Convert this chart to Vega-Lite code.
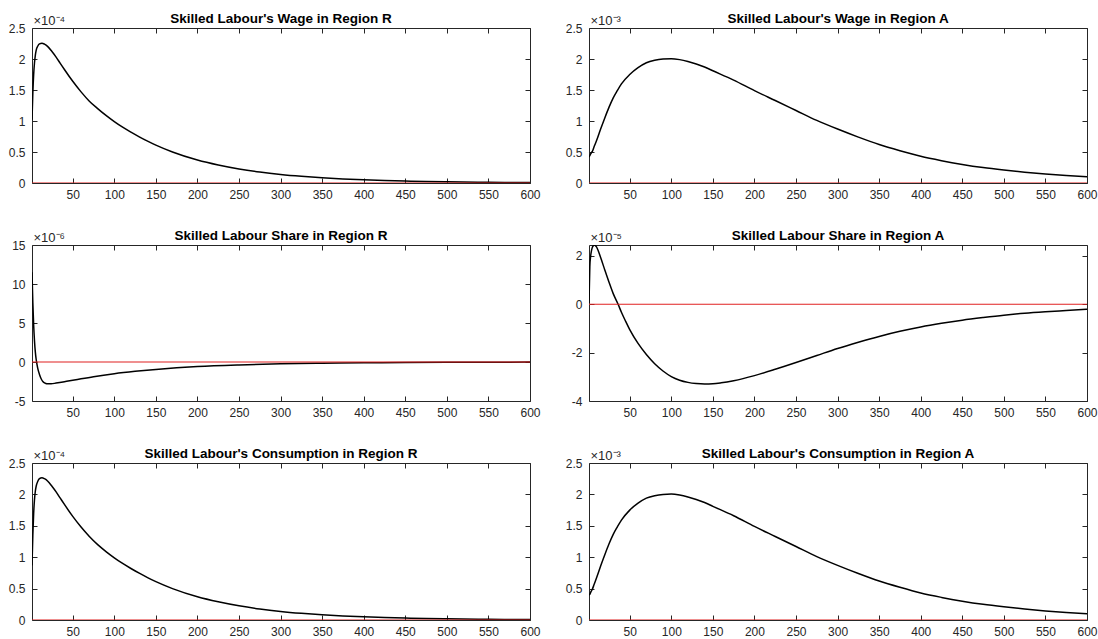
{
  "$schema": "https://vega.github.io/schema/vega-lite/v6.json",
  "padding": {"left": 7, "top": 11, "right": 5, "bottom": 0},
  "background": "white",
  "datasets": {
    "wageR": [
      {"x": 1, "y": 1.02}, {"x": 2, "y": 1.45}, {"x": 3, "y": 1.75}, {"x": 4, "y": 1.94}, {"x": 5, "y": 2.06},
      {"x": 6, "y": 2.14}, {"x": 8, "y": 2.21}, {"x": 10, "y": 2.245}, {"x": 13, "y": 2.255}, {"x": 16, "y": 2.24},
      {"x": 20, "y": 2.2}, {"x": 25, "y": 2.12}, {"x": 30, "y": 2.03}, {"x": 35, "y": 1.93}, {"x": 40, "y": 1.83},
      {"x": 50, "y": 1.64}, {"x": 60, "y": 1.47}, {"x": 70, "y": 1.32}, {"x": 80, "y": 1.2}, {"x": 90, "y": 1.09},
      {"x": 100, "y": 0.99}, {"x": 110, "y": 0.9}, {"x": 120, "y": 0.82}, {"x": 130, "y": 0.745}, {"x": 140, "y": 0.675},
      {"x": 150, "y": 0.61}, {"x": 170, "y": 0.5}, {"x": 200, "y": 0.37}, {"x": 225, "y": 0.29}, {"x": 250, "y": 0.226},
      {"x": 275, "y": 0.176}, {"x": 300, "y": 0.137}, {"x": 325, "y": 0.107}, {"x": 350, "y": 0.083}, {"x": 375, "y": 0.065},
      {"x": 400, "y": 0.051}, {"x": 425, "y": 0.04}, {"x": 450, "y": 0.031}, {"x": 475, "y": 0.024}, {"x": 500, "y": 0.019},
      {"x": 550, "y": 0.011}, {"x": 600, "y": 0.007}
    ],
    "wageA": [
      {"x": 1, "y": 0.42}, {"x": 2, "y": 0.44}, {"x": 3, "y": 0.47}, {"x": 4, "y": 0.49}, {"x": 5, "y": 0.51},
      {"x": 7, "y": 0.58}, {"x": 10, "y": 0.68}, {"x": 15, "y": 0.87}, {"x": 20, "y": 1.05}, {"x": 25, "y": 1.22},
      {"x": 30, "y": 1.37}, {"x": 35, "y": 1.49}, {"x": 40, "y": 1.6}, {"x": 50, "y": 1.75}, {"x": 60, "y": 1.86},
      {"x": 70, "y": 1.94}, {"x": 80, "y": 1.98}, {"x": 90, "y": 2.0}, {"x": 100, "y": 2.005}, {"x": 110, "y": 1.99},
      {"x": 120, "y": 1.96}, {"x": 130, "y": 1.92}, {"x": 140, "y": 1.87}, {"x": 150, "y": 1.81}, {"x": 175, "y": 1.66},
      {"x": 200, "y": 1.49}, {"x": 225, "y": 1.33}, {"x": 250, "y": 1.17}, {"x": 275, "y": 1.01}, {"x": 300, "y": 0.87},
      {"x": 325, "y": 0.74}, {"x": 350, "y": 0.62}, {"x": 375, "y": 0.52}, {"x": 400, "y": 0.43}, {"x": 425, "y": 0.36},
      {"x": 450, "y": 0.3}, {"x": 475, "y": 0.25}, {"x": 500, "y": 0.21}, {"x": 525, "y": 0.175}, {"x": 550, "y": 0.145},
      {"x": 575, "y": 0.12}, {"x": 600, "y": 0.1}
    ],
    "shareR": [
      {"x": 1, "y": 11.5}, {"x": 2, "y": 7.6}, {"x": 3, "y": 4.7}, {"x": 4, "y": 2.7}, {"x": 5, "y": 1.3},
      {"x": 6, "y": 0.35}, {"x": 7, "y": -0.3}, {"x": 8, "y": -0.85}, {"x": 10, "y": -1.6}, {"x": 12, "y": -2.15},
      {"x": 14, "y": -2.5}, {"x": 17, "y": -2.72}, {"x": 20, "y": -2.8}, {"x": 24, "y": -2.8}, {"x": 30, "y": -2.7},
      {"x": 40, "y": -2.52}, {"x": 50, "y": -2.34}, {"x": 60, "y": -2.15}, {"x": 75, "y": -1.88}, {"x": 100, "y": -1.5},
      {"x": 125, "y": -1.2}, {"x": 150, "y": -0.95}, {"x": 175, "y": -0.75}, {"x": 200, "y": -0.58}, {"x": 250, "y": -0.37},
      {"x": 300, "y": -0.24}, {"x": 350, "y": -0.15}, {"x": 400, "y": -0.1}, {"x": 450, "y": -0.06}, {"x": 500, "y": -0.04},
      {"x": 550, "y": -0.025}, {"x": 600, "y": -0.015}
    ],
    "shareA": [
      {"x": 1, "y": 0.05}, {"x": 2, "y": 1.55}, {"x": 3, "y": 2.0}, {"x": 4, "y": 2.22}, {"x": 5, "y": 2.35},
      {"x": 6, "y": 2.41}, {"x": 7, "y": 2.44}, {"x": 8, "y": 2.44}, {"x": 9, "y": 2.41}, {"x": 10, "y": 2.37},
      {"x": 12, "y": 2.22}, {"x": 15, "y": 1.93}, {"x": 20, "y": 1.42}, {"x": 25, "y": 0.92}, {"x": 30, "y": 0.45},
      {"x": 36, "y": 0.0}, {"x": 40, "y": -0.33}, {"x": 45, "y": -0.7}, {"x": 50, "y": -1.05}, {"x": 60, "y": -1.62},
      {"x": 70, "y": -2.08}, {"x": 80, "y": -2.46}, {"x": 90, "y": -2.76}, {"x": 100, "y": -2.99}, {"x": 110, "y": -3.14},
      {"x": 120, "y": -3.23}, {"x": 130, "y": -3.28}, {"x": 140, "y": -3.3}, {"x": 150, "y": -3.29}, {"x": 160, "y": -3.25},
      {"x": 175, "y": -3.16}, {"x": 200, "y": -2.95}, {"x": 225, "y": -2.69}, {"x": 250, "y": -2.41}, {"x": 275, "y": -2.12},
      {"x": 300, "y": -1.83}, {"x": 325, "y": -1.57}, {"x": 350, "y": -1.33}, {"x": 375, "y": -1.12}, {"x": 400, "y": -0.94},
      {"x": 425, "y": -0.79}, {"x": 450, "y": -0.66}, {"x": 475, "y": -0.55}, {"x": 500, "y": -0.45}, {"x": 525, "y": -0.37},
      {"x": 550, "y": -0.31}, {"x": 575, "y": -0.26}, {"x": 600, "y": -0.21}
    ],
    "consR": [
      {"x": 1, "y": 0.87}, {"x": 2, "y": 1.35}, {"x": 3, "y": 1.7}, {"x": 4, "y": 1.92}, {"x": 5, "y": 2.05},
      {"x": 6, "y": 2.13}, {"x": 8, "y": 2.21}, {"x": 10, "y": 2.25}, {"x": 13, "y": 2.265}, {"x": 16, "y": 2.25},
      {"x": 20, "y": 2.21}, {"x": 25, "y": 2.13}, {"x": 30, "y": 2.04}, {"x": 35, "y": 1.94}, {"x": 40, "y": 1.84},
      {"x": 50, "y": 1.65}, {"x": 60, "y": 1.48}, {"x": 70, "y": 1.33}, {"x": 80, "y": 1.2}, {"x": 90, "y": 1.09},
      {"x": 100, "y": 0.99}, {"x": 110, "y": 0.9}, {"x": 120, "y": 0.82}, {"x": 130, "y": 0.745}, {"x": 140, "y": 0.675},
      {"x": 150, "y": 0.61}, {"x": 170, "y": 0.5}, {"x": 200, "y": 0.37}, {"x": 225, "y": 0.29}, {"x": 250, "y": 0.226},
      {"x": 275, "y": 0.176}, {"x": 300, "y": 0.137}, {"x": 325, "y": 0.107}, {"x": 350, "y": 0.083}, {"x": 375, "y": 0.065},
      {"x": 400, "y": 0.051}, {"x": 425, "y": 0.04}, {"x": 450, "y": 0.031}, {"x": 475, "y": 0.024}, {"x": 500, "y": 0.019},
      {"x": 550, "y": 0.011}, {"x": 600, "y": 0.007}
    ],
    "consA": [
      {"x": 1, "y": 0.4}, {"x": 2, "y": 0.41}, {"x": 3, "y": 0.44}, {"x": 5, "y": 0.49},
      {"x": 7, "y": 0.56}, {"x": 10, "y": 0.67}, {"x": 15, "y": 0.86}, {"x": 20, "y": 1.04}, {"x": 25, "y": 1.21},
      {"x": 30, "y": 1.36}, {"x": 35, "y": 1.48}, {"x": 40, "y": 1.59}, {"x": 50, "y": 1.75}, {"x": 60, "y": 1.86},
      {"x": 70, "y": 1.94}, {"x": 80, "y": 1.98}, {"x": 90, "y": 2.0}, {"x": 100, "y": 2.005}, {"x": 110, "y": 1.99},
      {"x": 120, "y": 1.96}, {"x": 130, "y": 1.92}, {"x": 140, "y": 1.87}, {"x": 150, "y": 1.81}, {"x": 175, "y": 1.66},
      {"x": 200, "y": 1.49}, {"x": 225, "y": 1.33}, {"x": 250, "y": 1.17}, {"x": 275, "y": 1.01}, {"x": 300, "y": 0.87},
      {"x": 325, "y": 0.74}, {"x": 350, "y": 0.62}, {"x": 375, "y": 0.52}, {"x": 400, "y": 0.43}, {"x": 425, "y": 0.36},
      {"x": 450, "y": 0.3}, {"x": 475, "y": 0.25}, {"x": 500, "y": 0.21}, {"x": 525, "y": 0.175}, {"x": 550, "y": 0.145},
      {"x": 575, "y": 0.12}, {"x": 600, "y": 0.1}
    ]
  },
  "columns": 2,
  "spacing": {"row": 62, "column": 59},
  "bounds": "flush",
  "concat": [
    {
      "width": 498, "height": 155,
      "title": {"text": "Skilled Labour's Wage in Region R", "frame": "group"},
      "data": {"name": "wageR"},
      "layer": [
        {"mark": {"type": "line", "color": "#000000", "strokeWidth": 1.5, "clip": true, "interpolate": "monotone"},
         "encoding": {
           "x": {"field": "x", "type": "quantitative", "scale": {"domain": [1, 600], "nice": false, "zero": false},
                 "axis": {"orient": "bottom", "values": [50,100,150,200,250,300,350,400,450,500,550,600], "title": null, "labelExpr": "'' + datum.value"}},
           "y": {"field": "y", "type": "quantitative", "scale": {"domain": [0, 2.5], "nice": false, "zero": false},
                 "axis": {"orient": "left", "values": [0,0.5,1,1.5,2,2.5], "labelExpr": "'' + datum.value",
                          "title": "×10⁻⁴", "titleAngle": 0, "titleAlign": "left", "titleBaseline": "alphabetic", "titleX": 1, "titleY": -4}}
         }},
        {"mark": {"type": "line", "color": "#e02020", "strokeWidth": 1.2, "clip": true},
         "encoding": {
           "x": {"field": "x", "type": "quantitative", "axis": {"orient": "top", "values": [50,100,150,200,250,300,350,400,450,500,550,600], "labels": false, "title": null}},
           "y": {"datum": 0, "type": "quantitative", "axis": {"orient": "right", "values": [0,0.5,1,1.5,2,2.5], "labels": false, "title": null}}
         }}
      ],
      "resolve": {"axis": {"x": "independent", "y": "independent"}}
    },
    {
      "width": 498, "height": 155,
      "title": {"text": "Skilled Labour's Wage in Region A", "frame": "group"},
      "data": {"name": "wageA"},
      "layer": [
        {"mark": {"type": "line", "color": "#000000", "strokeWidth": 1.5, "clip": true, "interpolate": "monotone"},
         "encoding": {
           "x": {"field": "x", "type": "quantitative", "scale": {"domain": [1, 600], "nice": false, "zero": false},
                 "axis": {"orient": "bottom", "values": [50,100,150,200,250,300,350,400,450,500,550,600], "title": null, "labelExpr": "'' + datum.value"}},
           "y": {"field": "y", "type": "quantitative", "scale": {"domain": [0, 2.5], "nice": false, "zero": false},
                 "axis": {"orient": "left", "values": [0,0.5,1,1.5,2,2.5], "labelExpr": "'' + datum.value",
                          "title": "×10⁻³", "titleAngle": 0, "titleAlign": "left", "titleBaseline": "alphabetic", "titleX": 1, "titleY": -4}}
         }},
        {"mark": {"type": "line", "color": "#e02020", "strokeWidth": 1.2, "clip": true},
         "encoding": {
           "x": {"field": "x", "type": "quantitative", "axis": {"orient": "top", "values": [50,100,150,200,250,300,350,400,450,500,550,600], "labels": false, "title": null}},
           "y": {"datum": 0, "type": "quantitative", "axis": {"orient": "right", "values": [0,0.5,1,1.5,2,2.5], "labels": false, "title": null}}
         }}
      ],
      "resolve": {"axis": {"x": "independent", "y": "independent"}}
    },
    {
      "width": 498, "height": 156,
      "title": {"text": "Skilled Labour Share in Region R", "frame": "group"},
      "data": {"name": "shareR"},
      "layer": [
        {"mark": {"type": "line", "color": "#000000", "strokeWidth": 1.5, "clip": true, "interpolate": "monotone"},
         "encoding": {
           "x": {"field": "x", "type": "quantitative", "scale": {"domain": [1, 600], "nice": false, "zero": false},
                 "axis": {"orient": "bottom", "values": [50,100,150,200,250,300,350,400,450,500,550,600], "title": null, "labelExpr": "'' + datum.value"}},
           "y": {"field": "y", "type": "quantitative", "scale": {"domain": [-5, 15], "nice": false, "zero": false},
                 "axis": {"orient": "left", "values": [-5,0,5,10,15], "labelExpr": "'' + datum.value",
                          "title": "×10⁻⁶", "titleAngle": 0, "titleAlign": "left", "titleBaseline": "alphabetic", "titleX": 1, "titleY": -4}}
         }},
        {"mark": {"type": "line", "color": "#e02020", "strokeWidth": 1.2, "clip": true},
         "encoding": {
           "x": {"field": "x", "type": "quantitative", "axis": {"orient": "top", "values": [50,100,150,200,250,300,350,400,450,500,550,600], "labels": false, "title": null}},
           "y": {"datum": 0, "type": "quantitative", "axis": {"orient": "right", "values": [-5,0,5,10,15], "labels": false, "title": null}}
         }}
      ],
      "resolve": {"axis": {"x": "independent", "y": "independent"}}
    },
    {
      "width": 498, "height": 156,
      "title": {"text": "Skilled Labour Share in Region A", "frame": "group"},
      "data": {"name": "shareA"},
      "layer": [
        {"mark": {"type": "line", "color": "#000000", "strokeWidth": 1.5, "clip": true, "interpolate": "monotone"},
         "encoding": {
           "x": {"field": "x", "type": "quantitative", "scale": {"domain": [1, 600], "nice": false, "zero": false},
                 "axis": {"orient": "bottom", "values": [50,100,150,200,250,300,350,400,450,500,550,600], "title": null, "labelExpr": "'' + datum.value"}},
           "y": {"field": "y", "type": "quantitative", "scale": {"domain": [-4, 2.45], "nice": false, "zero": false},
                 "axis": {"orient": "left", "values": [-4,-2,0,2], "labelExpr": "'' + datum.value",
                          "title": "×10⁻⁵", "titleAngle": 0, "titleAlign": "left", "titleBaseline": "alphabetic", "titleX": 1, "titleY": -4}}
         }},
        {"mark": {"type": "line", "color": "#e02020", "strokeWidth": 1.2, "clip": true},
         "encoding": {
           "x": {"field": "x", "type": "quantitative", "axis": {"orient": "top", "values": [50,100,150,200,250,300,350,400,450,500,550,600], "labels": false, "title": null}},
           "y": {"datum": 0, "type": "quantitative", "axis": {"orient": "right", "values": [-4,-2,0,2], "labels": false, "title": null}}
         }}
      ],
      "resolve": {"axis": {"x": "independent", "y": "independent"}}
    },
    {
      "width": 498, "height": 157,
      "title": {"text": "Skilled Labour's Consumption in Region R", "frame": "group"},
      "data": {"name": "consR"},
      "layer": [
        {"mark": {"type": "line", "color": "#000000", "strokeWidth": 1.5, "clip": true, "interpolate": "monotone"},
         "encoding": {
           "x": {"field": "x", "type": "quantitative", "scale": {"domain": [1, 600], "nice": false, "zero": false},
                 "axis": {"orient": "bottom", "values": [50,100,150,200,250,300,350,400,450,500,550,600], "title": null, "labelExpr": "'' + datum.value"}},
           "y": {"field": "y", "type": "quantitative", "scale": {"domain": [0, 2.5], "nice": false, "zero": false},
                 "axis": {"orient": "left", "values": [0,0.5,1,1.5,2,2.5], "labelExpr": "'' + datum.value",
                          "title": "×10⁻⁴", "titleAngle": 0, "titleAlign": "left", "titleBaseline": "alphabetic", "titleX": 1, "titleY": -4}}
         }},
        {"mark": {"type": "line", "color": "#e02020", "strokeWidth": 1.2, "clip": true},
         "encoding": {
           "x": {"field": "x", "type": "quantitative", "axis": {"orient": "top", "values": [50,100,150,200,250,300,350,400,450,500,550,600], "labels": false, "title": null}},
           "y": {"datum": 0, "type": "quantitative", "axis": {"orient": "right", "values": [0,0.5,1,1.5,2,2.5], "labels": false, "title": null}}
         }}
      ],
      "resolve": {"axis": {"x": "independent", "y": "independent"}}
    },
    {
      "width": 498, "height": 157,
      "title": {"text": "Skilled Labour's Consumption in Region A", "frame": "group"},
      "data": {"name": "consA"},
      "layer": [
        {"mark": {"type": "line", "color": "#000000", "strokeWidth": 1.5, "clip": true, "interpolate": "monotone"},
         "encoding": {
           "x": {"field": "x", "type": "quantitative", "scale": {"domain": [1, 600], "nice": false, "zero": false},
                 "axis": {"orient": "bottom", "values": [50,100,150,200,250,300,350,400,450,500,550,600], "title": null, "labelExpr": "'' + datum.value"}},
           "y": {"field": "y", "type": "quantitative", "scale": {"domain": [0, 2.5], "nice": false, "zero": false},
                 "axis": {"orient": "left", "values": [0,0.5,1,1.5,2,2.5], "labelExpr": "'' + datum.value",
                          "title": "×10⁻³", "titleAngle": 0, "titleAlign": "left", "titleBaseline": "alphabetic", "titleX": 1, "titleY": -4}}
         }},
        {"mark": {"type": "line", "color": "#e02020", "strokeWidth": 1.2, "clip": true},
         "encoding": {
           "x": {"field": "x", "type": "quantitative", "axis": {"orient": "top", "values": [50,100,150,200,250,300,350,400,450,500,550,600], "labels": false, "title": null}},
           "y": {"datum": 0, "type": "quantitative", "axis": {"orient": "right", "values": [0,0.5,1,1.5,2,2.5], "labels": false, "title": null}}
         }}
      ],
      "resolve": {"axis": {"x": "independent", "y": "independent"}}
    }
  ],
  "config": {
    "font": "Liberation Sans",
    "view": {"stroke": "#262626", "strokeWidth": 1},
    "axis": {
      "domain": false, "grid": false, "ticks": true, "tickSize": -5, "tickColor": "#262626", "tickWidth": 1,
      "labelFont": "Liberation Sans", "labelFontSize": 12, "labelColor": "#262626", "labelPadding": 12,
      "labelFlush": false, "labelOverlap": false, "labelBound": false,
      "titleFont": "Liberation Sans", "titleFontSize": 13, "titleFontWeight": "normal", "titleColor": "#262626", "titlePadding": 0
    },
    "axisX": {"labelPadding": 11},
    "title": {"font": "Liberation Sans", "fontSize": 13.5, "fontWeight": "bold", "color": "#000000", "offset": -11, "anchor": "middle"}
  }
}
